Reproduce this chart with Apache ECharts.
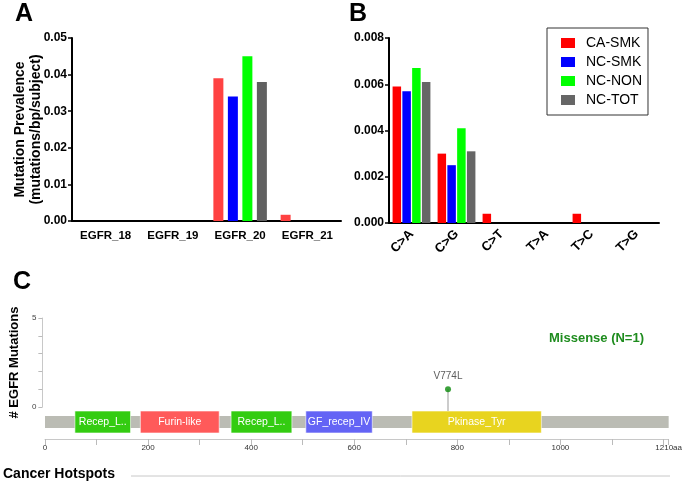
<!DOCTYPE html>
<html>
<head>
<meta charset="utf-8">
<script src="https://cdn.jsdelivr.net/npm/echarts@6/dist/echarts.min.js"></script>
<style>html,body{margin:0;padding:0;background:#fff}#c{width:685px;height:487px}</style>
</head>
<body>
<div id="c"></div>
<script>
// ---- Panel A data ----
const aCategories = ['EGFR_18', 'EGFR_19', 'EGFR_20', 'EGFR_21'];
const aCaSmk = [0, 0, 0.039, 0.0017];
const aNcSmk = [0, 0, 0.034, 0];
const aNcNon = [0, 0, 0.045, 0];
const aNcTot = [0, 0, 0.038, 0];
const aTicks = [0, 0.01, 0.02, 0.03, 0.04, 0.05];

// ---- Panel B data ----
const bCategories = ['C>A', 'C>G', 'C>T', 'T>A', 'T>C', 'T>G'];
const bCaSmk = [0.0059, 0.0030, 0.0004, 0, 0.0004, 0];
const bNcSmk = [0.0057, 0.0025, 0, 0, 0, 0];
const bNcNon = [0.0067, 0.0041, 0, 0, 0, 0];
const bNcTot = [0.0061, 0.0031, 0, 0, 0, 0];
const bTicks = [0, 0.002, 0.004, 0.006, 0.008];

const seriesNames = ['CA-SMK', 'NC-SMK', 'NC-NON', 'NC-TOT'];

// ---- Panel C data ----
const proteinLength = [1210];
const domainNames = ['Recep_L..', 'Furin-like', 'Recep_L..', 'GF_recep_IV', 'Pkinase_Tyr'];
const domainStart = [58, 185, 361, 506, 712];
const domainEnd = [166, 338, 479, 635, 963];
const domainColors = ['#33cc11', '#ff5a5a', '#33cc11', '#6464f5', '#e8d41f'];
const mutationNames = ['V774L'];
const mutationPos = [774];
const mutationCount = [1];

const narrow = '"Liberation Sans Narrow", "Liberation Sans", Arial, sans-serif';
const sans = '"Liberation Sans", Arial, sans-serif';

const colA = ['#ff4242', '#0000ff', '#00ff00', '#616161'];
const colB = ['#ff0000', '#0000ff', '#00ff00', '#666666'];

const chart = echarts.init(document.getElementById('c'));

const blackAxis = { lineStyle: { color: '#000', width: 2 } };
const blackTick = { length: 4, lineStyle: { color: '#000', width: 1.5 } };

function barSeries(name, data, color, axisIdx, width, gap) {
  return {
    type: 'bar', name: name, data: data,
    xAxisIndex: axisIdx, yAxisIndex: axisIdx,
    barWidth: width, barGap: gap,
    itemStyle: { color: color },
    emphasis: { disabled: true },
    animation: false
  };
}

const series = [];
const aData = [aCaSmk, aNcSmk, aNcNon, aNcTot];
const bData = [bCaSmk, bNcSmk, bNcNon, bNcTot];
for (let i = 0; i < 4; i++) series.push(barSeries(seriesNames[i], bData[i], colB[i], 1, 8.5, '15%'));
for (let i = 0; i < 4; i++) series.push(barSeries(seriesNames[i], aData[i], colA[i], 0, 10, '45%'));

// protein track (backbone + domains)
const trackData = [[0, proteinLength[0], '', '#bbbcb4', 0]];
for (let i = 0; i < domainNames.length; i++) {
  trackData.push([domainStart[i], domainEnd[i], domainNames[i], domainColors[i], 1]);
}
series.push({
  type: 'custom', xAxisIndex: 3, yAxisIndex: 3, data: trackData, animation: false, silent: true,
  renderItem: function (params, api) {
    const s = api.value(0), e = api.value(1), isDomain = api.value(4);
    const p0 = api.coord([s, 1]);
    const p1 = api.coord([e, 0]);
    let y0 = p0[1], y1 = p1[1];
    if (!isDomain) { const h = y1 - y0; y0 += h * 0.23; y1 -= h * 0.23; }
    const color = trackData[params.dataIndex][3];
    const name = trackData[params.dataIndex][2];
    const el = {
      type: 'rect',
      shape: { x: p0[0], y: y0, width: p1[0] - p0[0], height: y1 - y0 },
      style: { fill: color, stroke: isDomain ? 'rgba(255,255,255,0.6)' : null, lineWidth: 1 }
    };
    if (name) {
      el.textContent = { style: { text: name, fill: '#fff', font: '10.5px ' + narrow } };
      el.textConfig = { position: 'inside' };
    }
    return el;
  }
});

// lollipop stem
series.push({
  type: 'custom', xAxisIndex: 2, yAxisIndex: 2, animation: false, silent: true, clip: false,
  data: mutationPos.map((p, i) => [p, mutationCount[i]]),
  renderItem: function (params, api) {
    const top = api.coord([api.value(0), api.value(1)]);
    const base = api.coord([api.value(0), 0]);
    return { type: 'line', shape: { x1: top[0], y1: top[1], x2: base[0], y2: base[1] + 4 },
      style: { stroke: '#999', lineWidth: 1 } };
  }
});
// lollipop head
series.push({
  type: 'scatter', xAxisIndex: 2, yAxisIndex: 2, animation: false, silent: true,
  data: mutationPos.map((p, i) => ({ value: [p, mutationCount[i]], name: mutationNames[i] })),
  symbol: 'circle', symbolSize: 6, itemStyle: { color: '#0a8a0a' },
  label: { show: true, position: 'top', distance: 5, formatter: '{b}', color: '#333', fontSize: 10, fontFamily: sans },
  z: 5
});

const option = {
  backgroundColor: '#fff',
  animation: false,
  grid: [
    { left: 72, top: 38, width: 269, height: 183 },
    { left: 389, top: 38, width: 270, height: 185 },
    { left: 45, top: 318, width: 627, height: 89 },
    { left: 45, top: 411, width: 627, height: 22 }
  ],
  legend: {
    left: 547, top: 28, orient: 'vertical',
    borderColor: '#333', borderWidth: 1, padding: [8, 6, 8, 14],
    itemWidth: 14, itemHeight: 10, itemGap: 5,
    textStyle: { fontSize: 14, fontFamily: sans, color: '#000', padding: [0, 0, 0, 6] },
    selectedMode: false,
    data: seriesNames.map((n, i) => ({ name: n, icon: 'rect', itemStyle: { color: colB[i] } }))
  },
  xAxis: [
    { type: 'category', gridIndex: 0, data: aCategories,
      axisLine: blackAxis, axisTick: Object.assign({ alignWithLabel: true }, blackTick),
      axisLabel: { interval: 0, color: '#000', fontWeight: 'bold', fontSize: 11.5, fontFamily: narrow, margin: 9 } },
    { type: 'category', gridIndex: 1, data: bCategories,
      axisLine: blackAxis, axisTick: Object.assign({ alignWithLabel: true }, blackTick),
      axisLabel: { interval: 0, color: '#000', fontWeight: 'bold', fontSize: 13, fontFamily: sans, rotate: 45, margin: 9 } },
    { type: 'value', gridIndex: 2, min: 0, max: proteinLength[0], show: false },
    { type: 'value', gridIndex: 3, min: 0, max: proteinLength[0], interval: 100, offset: 6,
      axisLine: { onZero: false, lineStyle: { color: '#c8c8c8', width: 1 } },
      axisTick: { length: 6, lineStyle: { color: '#bbb' } },
      splitLine: { show: false },
      axisLabel: { color: '#333', fontSize: 8, fontFamily: narrow, margin: 5, hideOverlap: false,
        showMaxLabel: true, showMinLabel: true,
        formatter: v => v === proteinLength[0] ? v + 'aa' : (v % 200 === 0 && v <= 1000 ? String(v) : '') } }
  ],
  yAxis: [
    { type: 'value', gridIndex: 0, min: aTicks[0], max: aTicks[aTicks.length - 1], interval: 0.01,
      axisLine: Object.assign({ show: true }, blackAxis), axisTick: Object.assign({ show: true }, blackTick),
      splitLine: { show: false },
      axisLabel: { color: '#000', fontWeight: 'bold', fontSize: 12, fontFamily: narrow, margin: 5, formatter: v => v.toFixed(2) },
      name: 'Mutation Prevalence\n(mutations/bp/subject)', nameLocation: 'middle', nameRotate: 90, nameGap: 28,
      nameMoveOverlap: false,
      nameTextStyle: { color: '#000', fontWeight: 'bold', fontSize: 14, fontFamily: narrow, lineHeight: 16 } },
    { type: 'value', gridIndex: 1, min: bTicks[0], max: bTicks[bTicks.length - 1], interval: 0.002,
      axisLine: Object.assign({ show: true }, blackAxis), axisTick: Object.assign({ show: true }, blackTick),
      splitLine: { show: false },
      axisLabel: { color: '#000', fontWeight: 'bold', fontSize: 12, fontFamily: sans, margin: 5, formatter: v => v.toFixed(3) } },
    { type: 'value', gridIndex: 2, min: 0, max: 5, interval: 1, offset: 8,
      axisLine: { show: true, onZero: false, lineStyle: { color: '#c8c8c8', width: 1 } },
      axisTick: { show: true, length: 4, lineStyle: { color: '#bbb' } },
      splitLine: { show: false },
      axisLabel: { color: '#444', fontSize: 8, fontFamily: sans, margin: 6, formatter: v => (v === 0 || v === 5) ? String(v) : '' },
      name: '# EGFR Mutations', nameLocation: 'middle', nameRotate: 90, nameGap: 17,
      nameTextStyle: { color: '#000', fontWeight: 'bold', fontSize: 13, fontFamily: sans } },
    { type: 'value', gridIndex: 3, min: 0, max: 1, show: false }
  ],
  graphic: [
    { type: 'text', left: 15, top: 2, style: { text: 'A', font: 'bold 25px ' + sans, fill: '#000' } },
    { type: 'text', left: 349, top: 2, style: { text: 'B', font: 'bold 25px ' + sans, fill: '#000' } },
    { type: 'text', left: 13, top: 270, style: { text: 'C', font: 'bold 25px ' + sans, fill: '#000' } },
    { type: 'text', left: 549, top: 332, style: { text: 'Missense (N=1)', font: 'bold 13px ' + sans, fill: '#1e8c1e' } },
    { type: 'text', left: 3, top: 467, style: { text: 'Cancer Hotspots', font: 'bold 14px ' + narrow, fill: '#000' } },
    { type: 'line', shape: { x1: 131, y1: 476, x2: 670, y2: 476 }, style: { stroke: '#c8c8c8', lineWidth: 1 } }
  ],
  series: series
};
chart.setOption(option);
</script>
</body>
</html>
